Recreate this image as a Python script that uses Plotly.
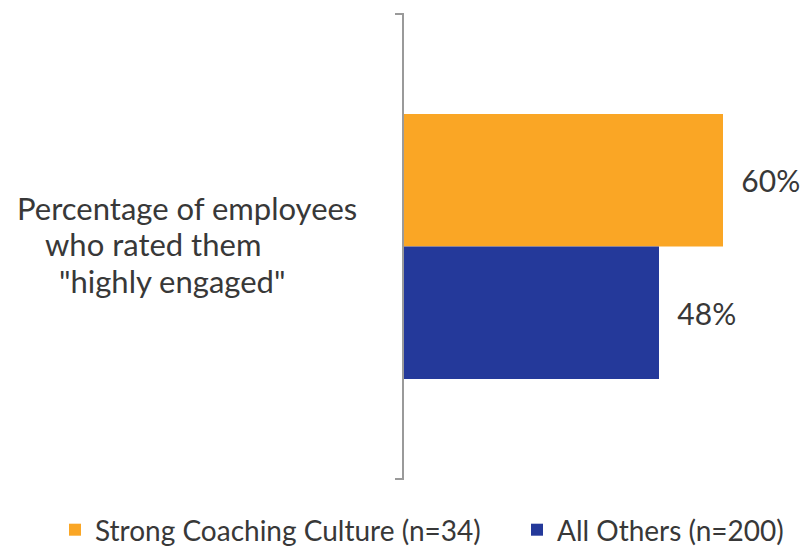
import plotly.graph_objects as go

# ---- data ----
category = "Percentage of employees who rated them \"highly engaged\""
category_lines = ["Percentage of employees", "who rated them", "\"highly engaged\""]
series_names = ["Strong Coaching Culture (n=34)", "All Others (n=200)"]
series_values = [60, 48]
series_colors = ["#FAA625", "#24399A"]

FONT = "Lato, 'Open Sans', sans-serif"
TEXT_COLOR = "#383838"

legend_ids = ["legend", "legend2"]
fig = go.Figure()
for name, val, col, lg in zip(series_names, series_values, series_colors, legend_ids):
    fig.add_trace(go.Bar(
        y=[category], x=[val], name=name, orientation="h", legend=lg,
        marker=dict(color=col, line=dict(width=0)),
        text=[f"{val}%"], texttemplate="\u00a0\u00a0%{text}",
        textposition="outside", cliponaxis=False,
        textfont=dict(family=FONT, size=30, color=TEXT_COLOR),
    ))

# category label lines (left edges / vertical centres in paper coords)
line_x = [-0.97, -0.90, -0.865]
line_y = [0.5828, 0.5054, 0.4258]
for txt, lx, ly in zip(category_lines, line_x, line_y):
    fig.add_annotation(text=txt, xref="paper", yref="paper", x=lx, y=ly,
                       xanchor="left", yanchor="middle", showarrow=False,
                       font=dict(family=FONT, size=31, color=TEXT_COLOR))

# bracket-like axis
fig.add_shape(type="path", xref="paper", yref="paper",
              path="M -0.02,1 L 0,1 L 0,0 L -0.02,0",
              line=dict(color="#9a9a9a", width=2))

legend_style = dict(orientation="h", xref="container", yref="container",
                    xanchor="left", yanchor="middle",
                    font=dict(family=FONT, size=28, color=TEXT_COLOR),
                    bgcolor="rgba(0,0,0,0)")

fig.update_layout(
    width=807, height=549,
    margin=dict(l=403, r=4, t=14, b=70),
    paper_bgcolor="white", plot_bgcolor="white",
    barmode="group", bargap=0.43, bargroupgap=0,
    xaxis=dict(range=[0, 75], visible=False),
    yaxis=dict(autorange="reversed", showticklabels=False, showgrid=False,
               zeroline=False, showline=False, ticks=""),
    showlegend=True,
    legend=dict(x=55/807, y=19/549, **legend_style),
    legend2=dict(x=517/807, y=19/549, **legend_style),
    font=dict(family=FONT),
)

fig.write_html("out.html")
